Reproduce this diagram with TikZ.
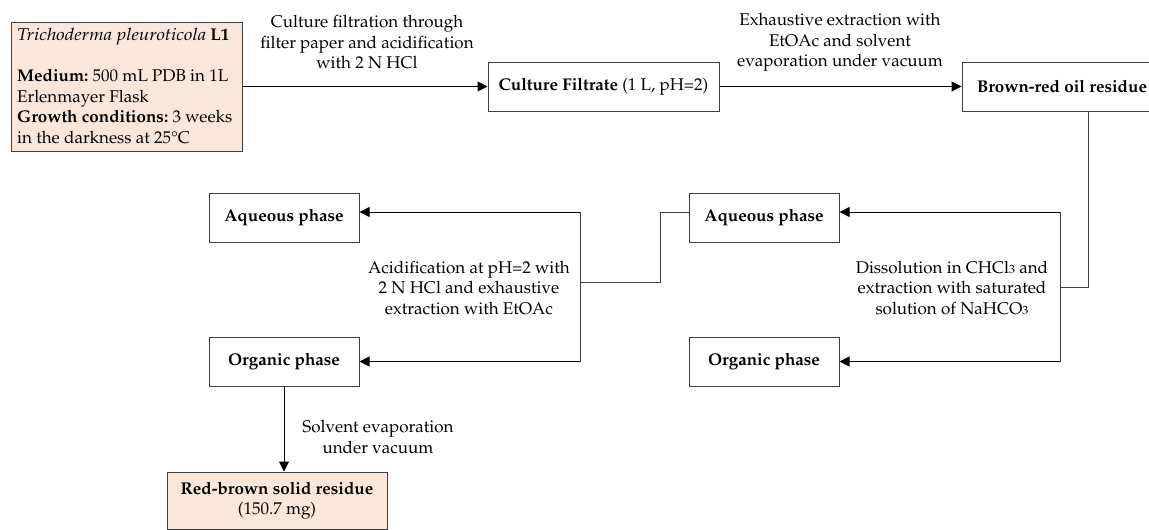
\documentclass[tikz,border=0pt]{standalone}
\usepackage[T1]{fontenc}
\usepackage{mathpazo}
\usetikzlibrary{arrows.meta,calc}
\definecolor{peach}{HTML}{FBE7D9}
\definecolor{edge}{HTML}{404040}
\newcommand{\basefont}{\fontsize{17}{20.5}\selectfont\frenchspacing}
\tikzset{
  box/.style={draw=edge,line width=1pt,minimum height=49pt,inner sep=0pt,align=center,font=\basefont\bfseries},
  lbl/.style={align=center,inner sep=0pt,font=\basefont},
  conn/.style={draw=edge,line width=1pt},
  arr/.style={draw=black,line width=1pt,-{Triangle[length=10pt,width=10pt]}}
}
\begin{document}
\begin{tikzpicture}[x=1pt,y=-1pt,font=\basefont]
\clip (0,0) rectangle (1149,530);
\fill[white] (0,0) rectangle (1149,530);
% nodes
\node[draw=edge,line width=1pt,fill=peach,minimum width=231pt,minimum height=129pt,inner sep=0pt] (src) at (126.5,86.5) {};
\node[anchor=west,align=left,inner sep=0pt,font=\basefont] (srctext) at (17,86) {\resizebox{189pt}{\height}{\textit{Trichoderma pleuroticola}} \textbf{L1}\\[20.5pt]\textbf{Medium:} 500 mL PDB in 1L\\Erlenmayer Flask\\\textbf{Growth conditions:} 3 weeks\\in the darkness at 25\textdegree C};
\node[box,minimum width=231pt] (cf) at (603.5,86.5) {Culture Filtrate \mdseries(1 L, pH=2)};
\node[box,minimum width=200pt] (bro) at (1062,86.5) {Brown-red oil residue};
\node[box,minimum width=150pt] (aq1) at (284,217.5) {Aqueous phase};
\node[box,minimum width=150pt] (org1) at (284,361.5) {Organic phase};
\node[box,minimum width=150pt] (aq2) at (764,217.5) {Aqueous phase};
\node[box,minimum width=150pt] (org2) at (764,361.5) {Organic phase};
\node[box,fill=peach,minimum width=220pt,minimum height=57pt] (res) at (277,500.5) {Red-brown solid residue\\\mdseries(150.7 mg)};
% labels
\node[lbl] (l1) at (367,42.5) {Culture filtration through\\filter paper and acidification\\with 2 N HCl};
\node[lbl] (l2) at (840,42.5) {Exhaustive extraction with\\EtOAc and solvent\\evaporation under vacuum};
\node[lbl] (l3) at (469,288) {Acidification at pH=2 with\\2 N HCl and exhaustive\\extraction with EtOAc};
\node[lbl] (l4) at (952,288) {Dissolution in CHCl{\fontsize{12}{12}\selectfont 3} and\\extraction with saturated\\solution of NaHCO{\fontsize{12}{12}\selectfont 3}};
\node[lbl] (l5) at (378,437) {Solvent evaporation\\under vacuum};
% junction coordinates
\coordinate (j1) at (1088,287);
\coordinate (j2) at (1060,287);
\coordinate (t2) at (1060,212);
\coordinate (b2) at (1060,361.5);
\coordinate (k1) at (660,282);
\coordinate (k2) at (580,282);
\coordinate (t1) at (580,212);
\coordinate (b1) at (580,361.5);
% connectors
\draw[arr] (src.east |- cf) -- (cf.west);
\draw[arr] (cf.east) -- (bro.west);
\draw[conn] (bro.south -| j1) -- (j1) -- (j2);
\draw[conn] (t2) -- (b2);
\draw[arr] (t2) -- (t2 -| aq2.east);
\draw[arr] (b2) -- (org2.east);
\draw[conn] (aq2.west |- t2) -- (t2 -| k1) -- (k1) -- (k2);
\draw[conn] (t1) -- (b1);
\draw[arr] (t1) -- (t1 -| aq1.east);
\draw[arr] (b1) -- (org1.east);
\draw[arr] (org1.south) -- (org1.south |- res.north);
\end{tikzpicture}
\end{document}
